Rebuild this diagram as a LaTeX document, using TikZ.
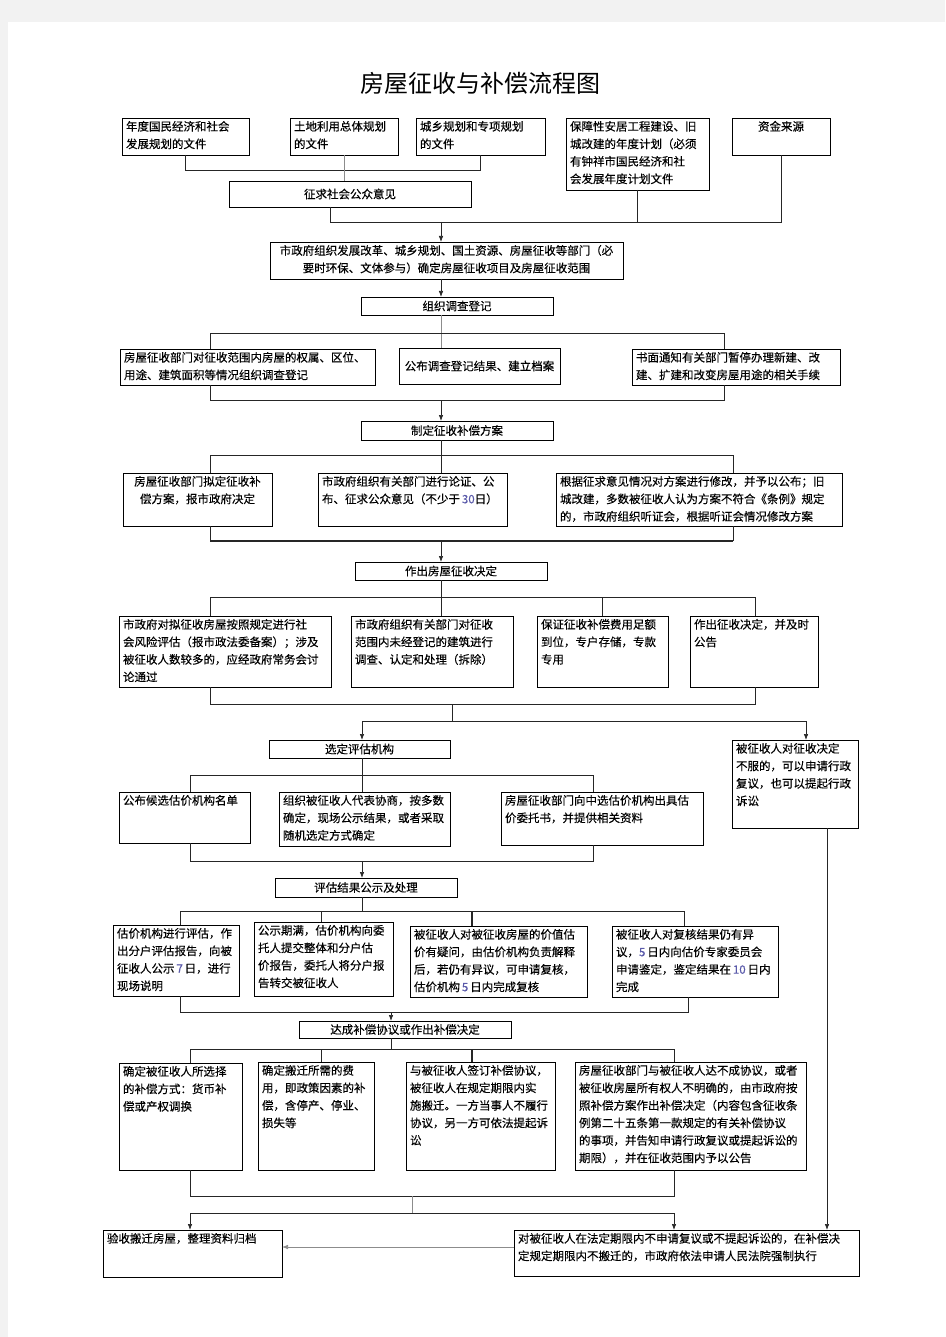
\documentclass[tikz,border=0pt]{standalone}
\usepackage{fontspec}
\setmainfont{Noto Sans CJK SC}
\newfontfamily\boxfont[FakeBold=0.25]{Noto Sans CJK SC}
\usetikzlibrary{arrows.meta,shadows}
\definecolor{numc}{RGB}{90,90,170}
\newcommand\fs{\boxfont\fontsize{11.5}{17.5}\selectfont}
\newcommand\nm[1]{\textcolor{numc}{#1}}
% name, x1, y1, x2, y2, horizontal alignment, vertical pos, text
\newcommand\flowbox[8]{%
  \node[box, anchor=north west] (#1) at (#2,#3)
    {\parbox[c][\dimexpr#5pt-#3pt-6pt\relax][#7]{\dimexpr#4pt-#2pt-8pt\relax}{\fs#6 #8}};}
\begin{document}
\begin{tikzpicture}[x=1pt,y=-1pt,
  box/.style={draw=black, line width=0.7pt, fill=white, inner xsep=4pt, inner ysep=3pt, outer sep=0pt,
    drop shadow={shadow xshift=1.3pt, shadow yshift=-1.3pt, fill=black!40, opacity=1}},
  ln/.style={draw=black!85, line width=0.7pt},
  lng/.style={draw=black!45, line width=0.7pt},
  arr/.style={ln, -{Latex[length=6pt,width=4.5pt]}},
  arrg/.style={lng, -{Latex[length=6pt,width=4.5pt]}}]
\useasboundingbox (0,0) rectangle (945,1337);
\fill[black!5] (0,0) rectangle (945,1337);
\fill[white] (8,22) rectangle (945,1337);

\foreach \x in {180,190,210,321,330,362,391,412,441,452,472,593,674,684,688,724,733,755,806,827}
  {\coordinate (v\x) at (\x,0);}
\foreach \y in {170,222,333,400,455,541,597,704,721,775,861,911,1012,1049,1196,1213,1247}
  {\coordinate (h\y) at (0,\y);}

\node (title) at (480,83) {\fontsize{24}{24}\selectfont 房屋征收与补偿流程图};

% row 1
\flowbox{A}{122}{118}{249}{155}{\raggedright}{t}{年度国民经济和社会\\发展规划的文件}
\flowbox{B}{290}{118}{398}{155}{\raggedright}{t}{土地利用总体规划\\的文件}
\flowbox{C}{416}{118}{545}{155}{\raggedright}{t}{城乡规划和专项规划\\的文件}
\flowbox{D}{566}{118}{709}{190}{\raggedright}{t}{保障性安居工程建设、旧\\城改建的年度计划（必须\\有钟祥市国民经济和社\\会发展年度计划文件}
\flowbox{E}{732}{118}{830}{155}{\centering}{t}{资金来源}
\flowbox{Q}{229}{181}{471}{207}{\centering}{c}{征求社会公众意见}
\flowbox{P}{270}{242}{623}{279}{\centering}{t}{市政府组织发展改革、城乡规划、国土资源、房屋征收等部门（必\\要时环保、文体参与）确定房屋征收项目及房屋征收范围}
\flowbox{S}{361}{297}{553}{315}{\centering}{c}{组织调查登记}
% row 3
\flowbox{L}{120}{349}{375}{385}{\raggedright}{t}{房屋征收部门对征收范围内房屋的权属、区位、\\用途、建筑面积等情况组织调查登记}
\flowbox{M}{399}{348}{560}{384}{\centering}{c}{公布调查登记结果、建立档案}
\flowbox{R}{632}{349}{840}{385}{\raggedright}{t}{书面通知有关部门暂停办理新建、改\\建、扩建和改变房屋用途的相关手续}
\flowbox{F}{361}{421}{553}{440}{\centering}{c}{制定征收补偿方案}
% row 4
\flowbox{G1}{123}{473}{272}{526}{\centering}{t}{房屋征收部门拟定征收补\\偿方案，报市政府决定}
\flowbox{G2}{318}{473}{507}{526}{\raggedright}{t}{市政府组织有关部门进行论证、公\\布、征求公众意见（不少于\,\nm{30}日）}
\flowbox{G3}{556}{473}{842}{526}{\raggedright}{t}{根据征求意见情况对方案进行修改，并予以公布；旧\\城改建，多数被征收人认为方案不符合《条例》规定\\的，市政府组织听证会，根据听证会情况修改方案}
\flowbox{H}{355}{562}{547}{580}{\centering}{c}{作出房屋征收决定}
% row 5
\flowbox{I1}{119}{616}{331}{687}{\raggedright}{t}{市政府对拟征收房屋按照规定进行社\\会风险评估（报市政法委备案）；涉及\\被征收人数较多的，应经政府常务会讨\\论通过}
\flowbox{I2}{351}{616}{513}{687}{\raggedright}{t}{市政府组织有关部门对征收\\范围内未经登记的建筑进行\\调查、认定和处理（拆除）}
\flowbox{I3}{537}{616}{668}{687}{\raggedright}{t}{保证征收补偿费用足额\\到位，专户存储，专款\\专用}
\flowbox{I4}{690}{616}{818}{687}{\raggedright}{t}{作出征收决定，并及时\\公告}
\flowbox{J}{269}{740}{450}{758}{\centering}{c}{选定评估机构}
\flowbox{V}{732}{740}{858}{828}{\raggedright}{t}{被征收人对征收决定\\不服的，可以申请行政\\复议，也可以提起行政\\诉讼}
% row 6
\flowbox{K1}{119}{792}{250}{843}{\raggedright}{t}{公布候选估价机构名单}
\flowbox{K2}{279}{792}{450}{846}{\raggedright}{t}{组织被征收人代表协商，按多数\\确定，现场公示结果，或者采取\\随机选定方式确定}
\flowbox{K3}{501}{792}{703}{845}{\raggedright}{t}{房屋征收部门向中选估价机构出具估\\价委托书，并提供相关资料}
\flowbox{N}{275}{878}{457}{897}{\centering}{c}{评估结果公示及处理}
% row 7
\flowbox{O1}{113}{925}{239}{996}{\raggedright}{t}{估价机构进行评估，作\\出分户评估报告，向被\\征收人公示\,\nm{7}\,日，进行\\现场说明}
\flowbox{O2}{254}{922}{393}{996}{\raggedright}{t}{公示期满，估价机构向委\\托人提交整体和分户估\\价报告，委托人将分户报\\告转交被征收人}
\flowbox{O3}{410}{926}{587}{997}{\raggedright}{t}{被征收人对被征收房屋的价值估\\价有疑问，由估价机构负责解释\\后，若仍有异议，可申请复核，\\估价机构\,\nm{5}\,日内完成复核}
\flowbox{O4}{612}{926}{778}{997}{\raggedright}{t}{被征收人对复核结果仍有异\\议，\nm{5}\,日内向估价专家委员会\\申请鉴定，鉴定结果在\,\nm{10}\,日内\\完成}
\flowbox{T}{299}{1021}{511}{1038}{\centering}{c}{达成补偿协议或作出补偿决定}
% row 8
\flowbox{U1}{119}{1063}{242}{1170}{\raggedright}{t}{确定被征收人所选择\\的补偿方式：货币补\\偿或产权调换}
\flowbox{U2}{258}{1062}{374}{1170}{\raggedright}{t}{确定搬迁所需的费\\用，即政策因素的补\\偿，含停产、停业、\\损失等}
\flowbox{U3}{406}{1062}{555}{1170}{\raggedright}{t}{与被征收人签订补偿协议，\\被征收人在规定期限内实\\施搬迁。一方当事人不履行\\协议，另一方可依法提起诉\\讼}
\flowbox{U4}{575}{1062}{806}{1170}{\raggedright}{t}{房屋征收部门与被征收人达不成协议，或者\\被征收房屋所有权人不明确的，由市政府按\\照补偿方案作出补偿决定（内容包含征收条\\例第二十五条第一款规定的有关补偿协议\\的事项，并告知申请行政复议或提起诉讼的\\期限），并在征收范围内予以公告}
% last row
\flowbox{W1}{103}{1230}{282}{1277}{\raggedright}{t}{验收搬迁房屋，整理资料归档}
\flowbox{W2}{514}{1230}{859}{1276}{\raggedright}{t}{对被征收人在法定期限内不申请复议或不提起诉讼的，在补偿决\\定规定期限内不搬迁的，市政府依法申请人民法院强制执行}

% connectors
\draw[ln] (A.south) |- (C.south |- h170) -- (C.south);
\draw[lng] (B.south) -- (B.south |- Q.north);
\draw[ln] (Q.south -| v330) |- (E.south |- h222) -- (E.south);
\draw[ln] (D.south) -- (D.south |- h222);
\draw[arr] (v441 |- h222) -- (v441 |- P.north);
\draw[arr] (v441 |- P.south) -- (v441 |- S.north);
\draw[lng] (v441 |- S.south) -- (v441 |- M.north);
\draw[ln] (v210 |- L.north) |- (v724 |- h333) -- (v724 |- R.north);
\draw[ln] (v210 |- L.south) |- (v724 |- h400) -- (v724 |- R.south);
\draw[arr] (v441 |- h400) -- (v441 |- F.north);
\draw[ln] (v441 |- F.south) -- (v441 |- G2.north);
\draw[ln] (v210 |- G1.north) |- (v733 |- h455) -- (v733 |- G3.north);
\draw[ln] (v210 |- G1.south) -- (v210 |- h541);
\draw[ln] (v733 |- G3.south) -- (v733 |- h541);
\draw[ln, line width=1.4pt] (v210 |- h541) -- (v733 |- h541);
\draw[arr] (v441 |- h541) -- (v441 |- H.north);
\draw[ln] (v441 |- H.south) -- (v441 |- I2.north);
\draw[ln] (v210 |- I1.north) |- (v755 |- h597) -- (v755 |- I4.north);
\draw[ln] (I3.north) -- (I3.north |- h597);
\draw[ln] (v210 |- I1.south) |- (v755 |- h704) -- (v755 |- I4.south);
\draw[ln] (v452 |- h704) -- (v452 |- h721);
\draw[arr] (v452 |- h721) -| (v362 |- J.north);
\draw[arr] (v452 |- h721) -| (v806 |- V.north);
\draw[ln] (v362 |- J.south) -- (v362 |- K2.north);
\draw[ln] (v190 |- K1.north) |- (v593 |- h775) -- (v593 |- K3.north);
\draw[ln] (v190 |- K1.south) |- (v593 |- h861) -- (v593 |- K3.south);
\draw[arr] (v362 |- h861) -- (v362 |- N.north);
\draw[ln] (v362 |- N.south) -- (v362 |- h911);
\draw[ln] (v180 |- O1.north) |- (v684 |- h911) -- (v684 |- O4.north);
\draw[ln] (v321 |- h911) -- (v321 |- O2.north);
\draw[ln, line width=1.1pt] (v472 |- h911) -- (v472 |- O3.north);
\draw[ln] (v180 |- O1.south) |- (v688 |- h1012) -- (v688 |- O4.south);
\draw[arr] (v391 |- h1012) -- (v391 |- T.north);
\draw[ln] (v391 |- T.south) -- (v391 |- h1049);
\draw[ln] (v190 |- U1.north) |- (v674 |- h1049) -- (v674 |- U4.north);
\draw[ln] (v321 |- h1049) -- (v321 |- U2.north);
\draw[ln, line width=1.1pt] (v472 |- h1049) -- (v472 |- U3.north);
\draw[ln] (v190 |- U1.south) |- (v674 |- h1196) -- (v674 |- U4.south);
\draw[lng] (v412 |- h1196) -- (v412 |- h1213);
\draw[arr] (v412 |- h1213) -| (v190 |- W1.north);
\draw[arr] (v412 |- h1213) -| (v674 |- W2.north);
\draw[arr] (v827 |- V.south) -- (v827 |- W2.north);
\draw[arrg] (W2.west |- h1247) -- (W1.east |- h1247);
\end{tikzpicture}
\end{document}
